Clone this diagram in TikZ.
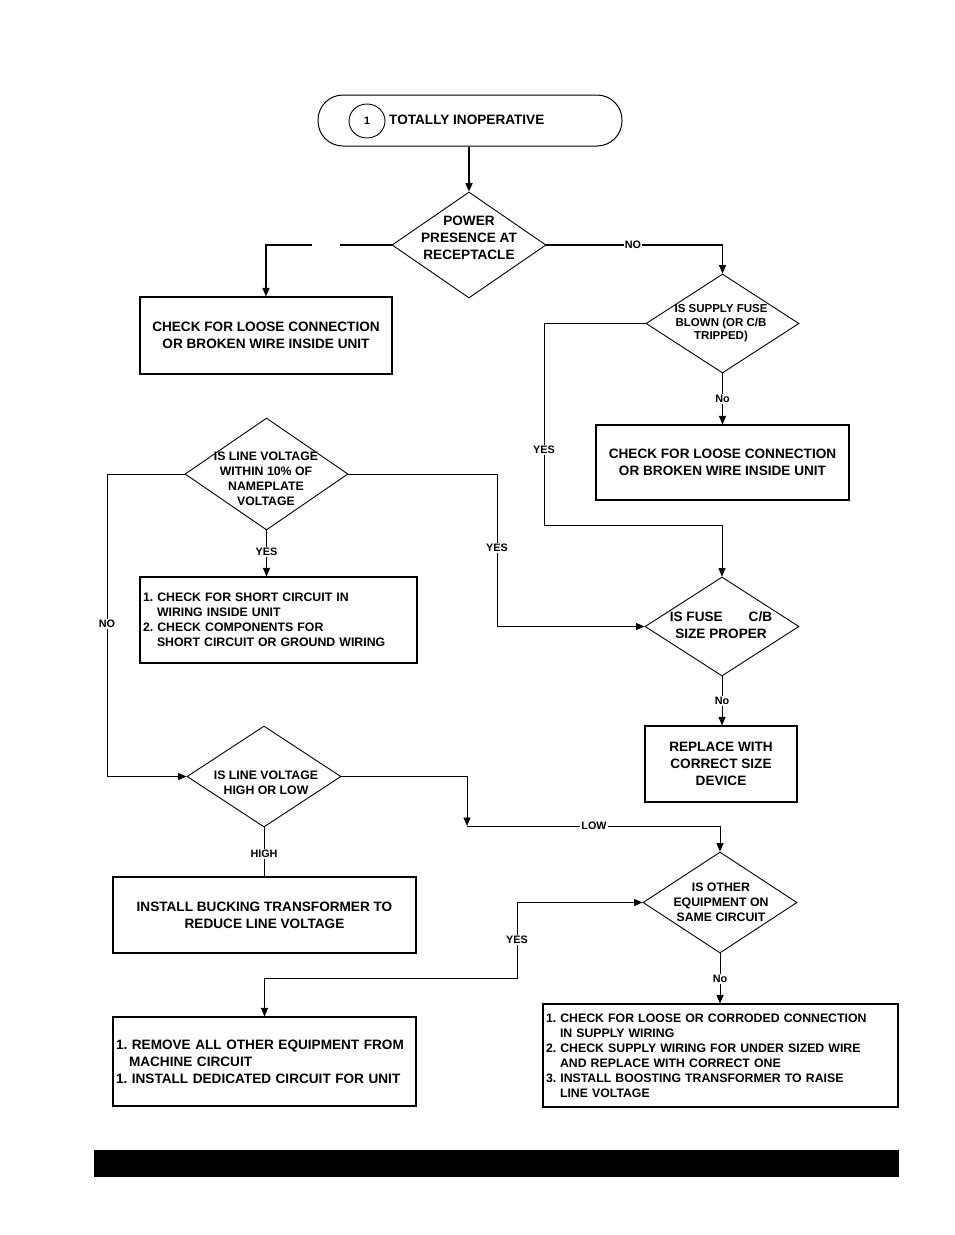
\documentclass[tikz,border=0pt]{standalone}
\usepackage{fontspec}
\setmainfont{Liberation Sans}
\usetikzlibrary{shapes.geometric,arrows.meta}
\frenchspacing
\newcommand{\fsL}{\fontsize{13.6}{17}\selectfont\bfseries}
\newcommand{\fsM}{\fontsize{12.3}{15}\selectfont\bfseries}
\newcommand{\fsS}{\fontsize{11.5}{13.5}\selectfont\bfseries}
\newcommand{\fsX}{\fontsize{10.8}{12}\selectfont\bfseries}
\begin{document}
\begin{tikzpicture}[x=1pt,y=-1pt,
  box/.style={draw, rectangle, line width=1.1pt, inner sep=0pt},
  dia/.style={draw, diamond, line width=0.9pt, inner sep=0pt},
  txt/.style={inner sep=0pt, align=center},
  lbl/.style={font=\fsX, fill=white, inner sep=1.2pt},
  conn/.style={line width=0.9pt},
  arr/.style={conn, -{Triangle[length=8.5pt,width=7pt]}},
  arrb/.style={conn, {Triangle[length=8.5pt,width=7pt]}-{Triangle[length=8.5pt,width=7pt]}}
]
\useasboundingbox (0,0) rectangle (954,1235);

% terminator
\node[draw, line width=1pt, rounded corners=25pt, minimum width=304, minimum height=51, inner sep=0pt] (term) at (470,120.5) {};
\node[draw, ellipse, line width=0.9pt, minimum width=36, minimum height=34, inner sep=0pt, font=\fsX] (one) at (367,121) {1};
\node[anchor=west, font=\fsL, inner sep=0pt] (tt) at (389,120) {TOTALLY INOPERATIVE};

% diamonds
\node[dia, minimum width=154, minimum height=106] (d1) at (469,245) {};
\node[txt, font=\fsL] (d1t) at (469,238) {POWER\\PRESENCE AT\\RECEPTACLE};

\node[dia, minimum width=153, minimum height=99] (d2) at (722.5,323.5) {};
\node[txt, font=\fsS] (d2t) at (721,323.5) {IS SUPPLY FUSE\\BLOWN (OR C/B\\TRIPPED)};

\node[dia, minimum width=163, minimum height=112] (d3) at (266.5,474) {};
\node[txt, font=\fsM] (d3t) at (266,478.5) {IS LINE VOLTAGE\\WITHIN 10\% OF\\NAMEPLATE\\VOLTAGE};

\node[dia, minimum width=154, minimum height=99] (d4) at (722,626.5) {};
\node[txt, font=\fsL] (d4t) at (721,625.5) {IS FUSE\hspace{26pt}C/B\\SIZE PROPER};

\node[dia, minimum width=154, minimum height=101] (d5) at (264,776.5) {};
\node[txt, font=\fsM] (d5t) at (266,783) {IS LINE VOLTAGE\\HIGH OR LOW};

\node[dia, minimum width=154, minimum height=101] (d6) at (720,902.5) {};
\node[txt, font=\fsM] (d6t) at (721,902) {IS OTHER\\EQUIPMENT ON\\SAME CIRCUIT};

% boxes
\node[box, minimum width=252, minimum height=77, font=\fsL, align=center] (b1) at (266,335.5) {CHECK FOR LOOSE CONNECTION\\OR BROKEN WIRE INSIDE UNIT};
\node[box, minimum width=253, minimum height=75, font=\fsL, align=center] (b2) at (722.5,462.5) {CHECK FOR LOOSE CONNECTION\\OR BROKEN WIRE INSIDE UNIT};
\node[box, minimum width=277, minimum height=86, font=\fsM, align=left, text width=271, inner xsep=3pt] (b3) at (278.5,620) {1. CHECK FOR SHORT CIRCUIT IN\\\hspace*{14pt}WIRING INSIDE UNIT\\2. CHECK COMPONENTS FOR\\\hspace*{14pt}SHORT CIRCUIT OR GROUND WIRING};
\node[box, minimum width=152, minimum height=76, font=\fsL, align=center] (b4) at (721,764) {REPLACE WITH\\CORRECT SIZE\\DEVICE};
\node[box, minimum width=303, minimum height=76, font=\fsL, align=center] (b5) at (264.5,915) {INSTALL BUCKING TRANSFORMER TO\\REDUCE LINE VOLTAGE};
\node[box, minimum width=303, minimum height=89, font=\fsL, align=left, text width=297, inner xsep=3pt] (b6) at (264.5,1061.5) {1. REMOVE ALL OTHER EQUIPMENT FROM\\\hspace*{13pt}MACHINE CIRCUIT\\1. INSTALL DEDICATED CIRCUIT FOR UNIT};
\node[box, minimum width=355, minimum height=103, font=\fsM, align=left, text width=349, inner xsep=3pt] (b7) at (720.5,1055.5) {1. CHECK FOR LOOSE OR CORRODED CONNECTION\\\hspace*{14pt}IN SUPPLY WIRING\\2. CHECK SUPPLY WIRING FOR UNDER SIZED WIRE\\\hspace*{14pt}AND REPLACE WITH CORRECT ONE\\3. INSTALL BOOSTING TRANSFORMER TO RAISE\\\hspace*{14pt}LINE VOLTAGE};

% helper coordinates
\coordinate (g1) at (340,245);
\coordinate (g2) at (312,245);
\coordinate (c2) at (544,323.5);
\coordinate (c3) at (544,525);
\coordinate (c4) at (497,474);
\coordinate (c5) at (107,474);
\coordinate (c6) at (467,826);
\coordinate (c7) at (517,902.5);
\coordinate (c8) at (517,978);

% connectors
\draw[arr, line width=1.7pt] (d1.north |- term.south) -- (d1.north);
\draw[conn, line width=1.5pt] (d1.west) -- (g1);
\draw[arr, line width=1.3pt] (g2) -| (b1.north);
\draw[arr, line width=1.3pt] (d1.east) -| (d2.north);
\draw[arr] (d2.south) -- (d2.south |- b2.north);
\draw[arr] (d2.west) -- (c2) -- (c3) -| (d4.north);
\draw[arr] (d3.east) -- (c4) |- (d4.west);
\draw[arr] (d3.south) -- (d3.south |- b3.north);
\draw[arr] (d3.west) -- (c5) |- (d5.west);
\draw[arr] (d4.south) -- (d4.south |- b4.north);
\draw[arr] (d5.east) -| (c6);
\draw[arr] (c6) -| (d6.north);
\draw[conn] (d5.south) -- (d5.south |- b5.north);
\draw[arrb] (d6.west) -- (c7) -- (c8) -| (b6.north);
\draw[arr] (d6.south) -- (d6.south |- b7.north);

% labels
\node[lbl] (l1) at (633,245) {NO};
\node[lbl] (l2) at (722.5,399) {No};
\node[lbl] (l3) at (544,450) {YES};
\node[lbl] (l4) at (497,548) {YES};
\node[lbl] (l5) at (266.5,552) {YES};
\node[lbl] (l6) at (107,624) {NO};
\node[lbl] (l7) at (722,701) {No};
\node[lbl] (l8) at (594,826) {LOW};
\node[lbl] (l9) at (264,854) {HIGH};
\node[lbl] (l10) at (517,940) {YES};
\node[lbl] (l11) at (720,979) {No};

% bottom bar
\fill (94,1150) rectangle (899,1177);
\end{tikzpicture}
\end{document}
